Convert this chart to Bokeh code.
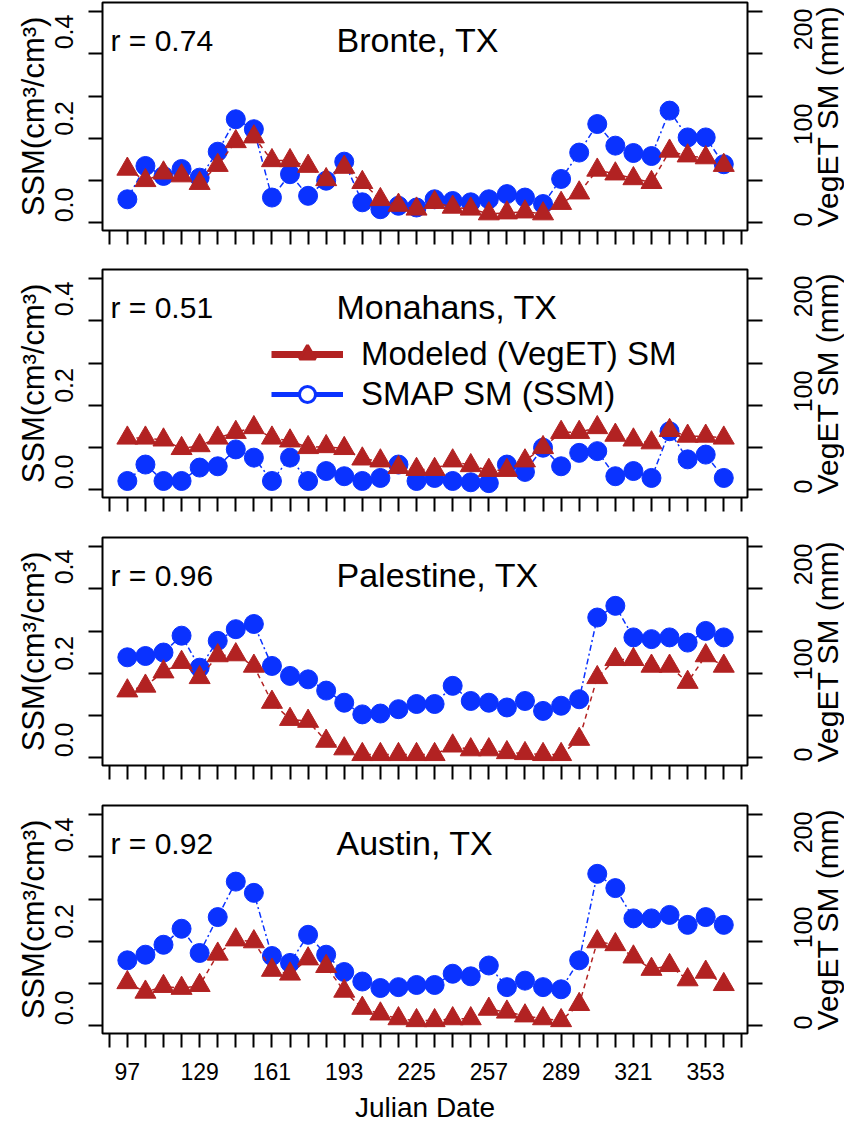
import math
from bokeh.plotting import figure
from bokeh.models import (Range1d, LinearAxis, FixedTicker, NumeralTickFormatter,
                          Label, Legend, LegendItem)
from bokeh.core.properties import value
from bokeh.layouts import column, row
from bokeh.embed import file_html
from bokeh.resources import INLINE

# ---------------- data ----------------
julian_date = [97, 105, 113, 121, 129, 137, 145, 153, 161, 169, 177, 185, 193, 201, 209, 217, 225,
               233, 241, 249, 257, 265, 273, 281, 289, 297, 305, 313, 321, 329, 337, 345, 353, 361]
date_labels = [97, 129, 161, 193, 225, 257, 289, 321, 353]
ssm_labels = [0.0, 0.2, 0.4]
veget_labels = [0, 100, 200]

sites = ["Bronte, TX", "Monahans, TX", "Palestine, TX", "Austin, TX"]
r_values = ["0.74", "0.51", "0.96", "0.92"]

ssm_bronte = [0.013, 0.090, 0.067, 0.083, 0.063, 0.123, 0.198, 0.175, 0.017, 0.071, 0.021, 0.056,
              0.100, 0.006, -0.010, -0.002, -0.006, 0.013, 0.009, 0.006, 0.013, 0.025, 0.017, 0.002,
              0.060, 0.121, 0.187, 0.137, 0.120, 0.113, 0.218, 0.156, 0.156, 0.094]
ssm_monahans = [-0.021, 0.017, -0.021, -0.021, 0.010, 0.013, 0.052, 0.033, -0.021, 0.033, -0.021,
                0.002, -0.010, -0.021, -0.014, 0.017, -0.021, -0.014, -0.021, -0.024, -0.026, 0.017,
                0.000, 0.056, 0.013, 0.044, 0.048, -0.010, 0.002, -0.014, 0.094, 0.029, 0.040, -0.014]
ssm_palestine = [0.191, 0.194, 0.202, 0.241, 0.167, 0.229, 0.256, 0.268, 0.171, 0.148, 0.140, 0.114,
                 0.086, 0.059, 0.061, 0.071, 0.083, 0.083, 0.125, 0.090, 0.086, 0.075, 0.090, 0.067,
                 0.079, 0.094, 0.283, 0.310, 0.237, 0.233, 0.237, 0.225, 0.252, 0.237]
ssm_austin = [0.110, 0.123, 0.146, 0.183, 0.127, 0.210, 0.292, 0.266, 0.120, 0.104, 0.169, 0.123,
              0.083, 0.061, 0.046, 0.048, 0.053, 0.053, 0.079, 0.073, 0.098, 0.048, 0.063, 0.048,
              0.043, 0.110, 0.310, 0.277, 0.207, 0.207, 0.215, 0.192, 0.210, 0.192]

veget_bronte = [53, 41, 49, 46, 38, 57, 82, 87, 62, 62, 56, 42, 55, 39, 21, 15, 11, 18, 13, 11, 6, 7,
                8, 6, 17, 28, 52, 48, 43, 39, 72, 67, 65, 57]
veget_monahans = [51, 51, 49, 40, 43, 51, 57, 62, 51, 48, 41, 42, 40, 29, 27, 20, 18, 18, 27, 22, 17,
                  17, 27, 41, 57, 57, 62, 54, 49, 46, 59, 53, 53, 51]
veget_palestine = [67, 72, 87, 97, 81, 104, 105, 93, 55, 37, 35, 14, 6, 0, 0, 0, 0, 0, 9, 5, 5, 2, 1,
                   0, 0, 16, 81, 100, 100, 93, 93, 76, 104, 93]
veget_austin = [42, 32, 38, 36, 39, 72, 87, 85, 55, 51, 67, 59, 33, 15, 9, 4, 2, 2, 4, 4, 14, 11, 7,
                4, 2, 19, 85, 82, 69, 56, 60, 45, 53, 40]

ssm_series = [ssm_bronte, ssm_monahans, ssm_palestine, ssm_austin]
veget_series = [veget_bronte, veget_monahans, veget_palestine, veget_austin]

# ---------------- style ----------------
FONT = "Liberation Sans"
RED = "#b22222"
BLUE = "#0a32ff"
FRAME_W, FRAME_H = 645, 228
MAIN_RIGHT = 18                 # right border of main panel (tick marks only)
SIDE_W = 844 - (102 + FRAME_W + MAIN_RIGHT)   # strip for right-axis labels and title
LBL_X, TITLE_X = 37, 62         # px inside that strip
X_LO, X_HI = 86.0, 371.5
SSM_LO, SSM_HI = -0.0592, 0.468
VEG_LO, VEG_HI = -11.6, 228.4

# tick marks (pixel offsets from the frame top, as in the picture)
TICK_PX = [9.3 + 42.14 * i for i in range(6)]


def px_to(lo, hi, px):
    return hi - (hi - lo) * px / FRAME_H


left_marks = [px_to(SSM_LO, SSM_HI, t) for t in TICK_PX]
right_marks = [px_to(VEG_LO, VEG_HI, t) for t in TICK_PX]
x_marks = [julian_date[0] - 8] + julian_date + [julian_date[-1] + 8]


def xfrac(f):
    return X_LO + (X_HI - X_LO) * f


def style_axis(ax, ticks, marks, tick_out, standoff, size):
    ax.ticker = FixedTicker(ticks=ticks, minor_ticks=marks)
    ax.axis_line_color = None
    ax.major_tick_line_color = None
    ax.major_tick_out = tick_out
    ax.major_tick_in = 0
    ax.minor_tick_line_color = "black"
    ax.minor_tick_line_width = 2
    ax.minor_tick_out = tick_out
    ax.minor_tick_in = 0
    ax.major_label_standoff = standoff
    ax.major_label_text_font = FONT
    ax.major_label_text_font_size = f"{size}px"
    ax.major_label_text_color = "black"
    ax.axis_label_text_font = FONT
    ax.axis_label_text_font_style = "normal"
    ax.axis_label_text_color = "black"


borders_bottom = [37, 38, 38, 88]
rows = []
for k in range(4):
    last = k == 3
    p = figure(frame_width=FRAME_W, frame_height=FRAME_H,
               x_range=Range1d(X_LO, X_HI), y_range=Range1d(SSM_LO, SSM_HI),
               output_backend="svg", toolbar_location=None,
               min_border_left=102, min_border_right=MAIN_RIGHT, min_border_top=2,
               min_border_bottom=borders_bottom[k],
               background_fill_color="white", border_fill_color="white")
    p.extra_y_ranges = {"veget": Range1d(VEG_LO, VEG_HI)}
    p.xgrid.visible = False
    p.ygrid.visible = False
    p.outline_line_color = "black"
    p.outline_line_width = 2
    p.outline_line_alpha = 1.0

    # x axis
    xa = p.xaxis[0]
    style_axis(xa, date_labels if last else [], x_marks, 14, 15, 23)
    if last:
        xa.axis_label = "Julian Date"
        xa.axis_label_text_font_size = "28px"
        xa.axis_label_standoff = 9
    else:
        xa.major_label_text_font_size = "0px"

    # left axis (SSM)
    ya = p.yaxis[0]
    style_axis(ya, ssm_labels, left_marks, 14, 15, 25)
    ya.formatter = NumeralTickFormatter(format="0.0")
    ya.major_label_orientation = "vertical"
    ya.axis_label = "SSM(cm³/cm³)"
    ya.axis_label_text_font_size = "31px"
    ya.axis_label_standoff = 2

    # right axis (VegET): tick marks here, its upward-reading labels in the strip beside
    ra = LinearAxis(y_range_name="veget")
    style_axis(ra, [], right_marks, 15, 0, 25)
    p.add_layout(ra, "right")

    # data
    p.line(julian_date, ssm_series[k], line_color=BLUE, line_width=1.5, line_dash="2 3 6 3")
    p.scatter(julian_date, ssm_series[k], marker="circle", size=19, fill_color=BLUE, line_color=BLUE)
    p.line(julian_date, veget_series[k], y_range_name="veget", line_color=RED, line_width=1.5,
           line_dash="5 4")
    p.scatter(julian_date, veget_series[k], y_range_name="veget", marker="triangle", size=21,
              fill_color=RED, line_color=RED)

    # texts
    y_text = px_to(SSM_LO, SSM_HI, 37.5)
    p.add_layout(Label(x=xfrac(8 / FRAME_W), y=y_text, text="r = " + r_values[k],
                       text_font=FONT, text_font_size="30px", text_color="black",
                       text_align="left", text_baseline="alphabetic"))
    p.add_layout(Label(x=xfrac(234 / FRAME_W), y=y_text, text=sites[k],
                       text_font=FONT, text_font_size="34px", text_color="black",
                       text_align="left", text_baseline="alphabetic"))

    if k == 1:
        nan = [float("nan")]
        r_line = p.line(nan, nan, line_color=RED, line_width=7)
        r_tri = p.scatter(nan, nan, marker="triangle", fill_color=RED, line_color=RED, line_width=3)
        b_line = p.line(nan, nan, line_color=BLUE, line_width=5)
        b_dot = p.scatter(nan, nan, marker="circle", fill_color="white", line_color=BLUE,
                          line_width=3)
        leg = Legend(items=[LegendItem(label="Modeled (VegET) SM", renderers=[r_line, r_tri]),
                            LegendItem(label="SMAP SM (SSM)", renderers=[b_line, b_dot])],
                     location=(169, 83), glyph_width=72, glyph_height=40, label_standoff=18,
                     spacing=0, padding=0, margin=0, border_line_color=None,
                     background_fill_alpha=0, label_text_font=FONT,
                     label_text_font_size="33px", label_text_color="black")
        p.add_layout(leg)

    # strip with the right-axis labels and title (same vertical scale as the VegET axis)
    s = figure(frame_width=SIDE_W, frame_height=FRAME_H,
               x_range=Range1d(0, SIDE_W), y_range=Range1d(VEG_LO, VEG_HI),
               output_backend="svg", toolbar_location=None,
               x_axis_location=None, y_axis_location=None,
               min_border_left=0, min_border_right=0, min_border_top=2,
               min_border_bottom=borders_bottom[k],
               background_fill_color="white", border_fill_color="white")
    s.outline_line_color = None
    s.grid.visible = False
    s.text(x=[LBL_X] * len(veget_labels), y=veget_labels, text=[str(v) for v in veget_labels],
           angle=math.pi / 2, text_align="center", text_baseline="middle",
           text_font=value(FONT), text_font_size="25px", text_color="black")
    s.text(x=[TITLE_X], y=[(VEG_LO + VEG_HI) / 2], text=["VegET SM (mm)"],
           angle=math.pi / 2, text_align="center", text_baseline="middle",
           text_font=value(FONT), text_font_size="30px", text_color="black")

    rows.append(row(p, s))

layout = column(*rows)
open("out.html", "w").write(file_html(layout, INLINE))
